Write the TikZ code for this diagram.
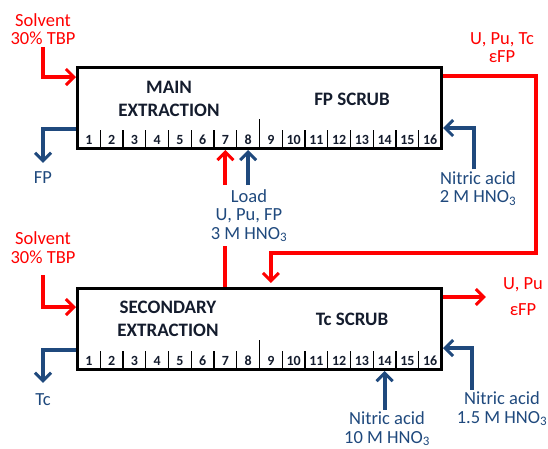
\documentclass[tikz,border=0pt]{standalone}
\usepackage{fontspec}
\setmainfont{Carlito}
\usetikzlibrary{arrows.meta,positioning,calc}
\definecolor{flowblue}{RGB}{31,73,125}
\definecolor{flowred}{RGB}{255,0,0}
\definecolor{inkdark}{RGB}{20,28,45}

\begin{document}
\begin{tikzpicture}[x=1pt, y=-1pt,
    >={Straight Barb[length=8pt, width=16pt, line width=3pt]},
    colbox/.style={draw, line width=3pt, minimum width=364pt, minimum height=81pt, inner sep=0pt},
    stagenum/.style={font=\fontsize{14}{14}\selectfont\bfseries, text=inkdark, inner sep=0pt},
    boxlabel/.style={font=\fontsize{19}{23}\selectfont\bfseries, text=inkdark, align=center},
    redtxt/.style={font=\fontsize{18.5}{18.5}\selectfont, text=flowred, align=center, inner sep=2pt},
    bluetxt/.style={font=\fontsize{18.5}{18.5}\selectfont, text=flowblue, align=center, inner sep=2pt},
    redflow/.style={draw=flowred, line width=4pt},
    blueflow/.style={draw=flowblue, line width=4pt}]
  \useasboundingbox (0,0) rectangle (548,448);

  % the two contactor banks
  \node[colbox] (main)   at (259.5,108) {};
  \node[colbox] (second) at (259.5,329) {};
  \foreach \i in {1,...,16} {
    \node[stagenum] (m\i) at ({77.5+22.75*(\i-0.5)},140) {\i};
    \node[stagenum] (s\i) at ({77.5+22.75*(\i-0.5)},361) {\i};
  }
  \foreach \i in {1,...,15} {
    \draw[line width=1.4pt] ({77.5+22.75*\i},148.5) -- ++(0,-19);
    \draw[line width=1.4pt] ({77.5+22.75*\i},369.5) -- ++(0,-19);
  }
  \draw[line width=1.4pt] (m8 |- main.south) ++(11.375,-1.5) -- ++(0,-29.5);
  \draw[line width=1.4pt] (s8 |- second.south) ++(11.375,-1.5) -- ++(0,-29.5);

  \node[boxlabel] (mainT)  at (169,98.5) {MAIN\\EXTRACTION};
  \node[boxlabel] (scrub1) at (352,99)   {FP SCRUB};
  \node[boxlabel] (secT)   at (168,319)  {SECONDARY\\EXTRACTION};
  \node[boxlabel] (scrub2) at (352,319)  {Tc SCRUB};

  % streams
  \node[redtxt]  (solv1) at (43,29)    {Solvent\\30\% TBP};
  \node[redtxt]  (solv2) at (43,247.5) {Solvent\\30\% TBP};
  \node[bluetxt] (fp)    at (43,178)   {FP};
  \node[bluetxt] (tc)    at (43,400)   {Tc};
  \node[bluetxt, inner sep=4pt] (load) at (249,215.5) {Load\\U, Pu, FP\\3 M HNO\textsubscript{3}};
  \node[redtxt]  (out1)  at (502,47.5) {U, Pu, Tc\\εFP};
  \node[redtxt, font=\fontsize{18.5}{26}\selectfont] (out2) at (523,297) {U, Pu\\εFP};
  \node[bluetxt] (acid1) at (478,188.5) {Nitric acid\\2 M HNO\textsubscript{3}};
  \node[bluetxt] (acid2) at (502,409)   {Nitric acid\\1.5 M HNO\textsubscript{3}};
  \node[bluetxt] (acid3) at (387,429)   {Nitric acid\\10 M HNO\textsubscript{3}};

  \draw[redflow,->] (solv1.south) |- ([yshift=-11pt]main.north west);
  \draw[redflow,->] ([yshift=-10pt]solv2.south) |- ([yshift=-20pt]second.north west);
  \draw[blueflow,->, shorten >=7pt] ([yshift=21pt]main.south west) -| (fp.north);
  \draw[blueflow,->, shorten >=9pt] ([yshift=21pt]second.south west) -| (tc.north);
  \draw[redflow]    (s7 |- second.north) -- (load.south -| s7);
  \draw[redflow,->]  (load.north -| m7) -- (m7 |- main.south);
  \draw[blueflow,->] (load.north -| m8) -- (m8 |- main.south);
  \draw[redflow,->, shorten >=4pt] ([yshift=-10pt]main.north east) -- ++(93,0)
      |- ([yshift=34pt]second.north -| s9) -- (second.north -| s9);
  \draw[redflow,->, shorten >=15pt] ([yshift=-10pt]second.north east) -- (out2.west);
  \draw[blueflow,->] ([xshift=-4pt]acid1.north) |- ([yshift=22pt]main.south east);
  \draw[blueflow,->] ([xshift=-30pt]acid2.north) |- ([yshift=23pt]second.south east);
  \draw[blueflow,->] (acid3.north -| s14) -- (s14 |- second.south);
\end{tikzpicture}
\end{document}
